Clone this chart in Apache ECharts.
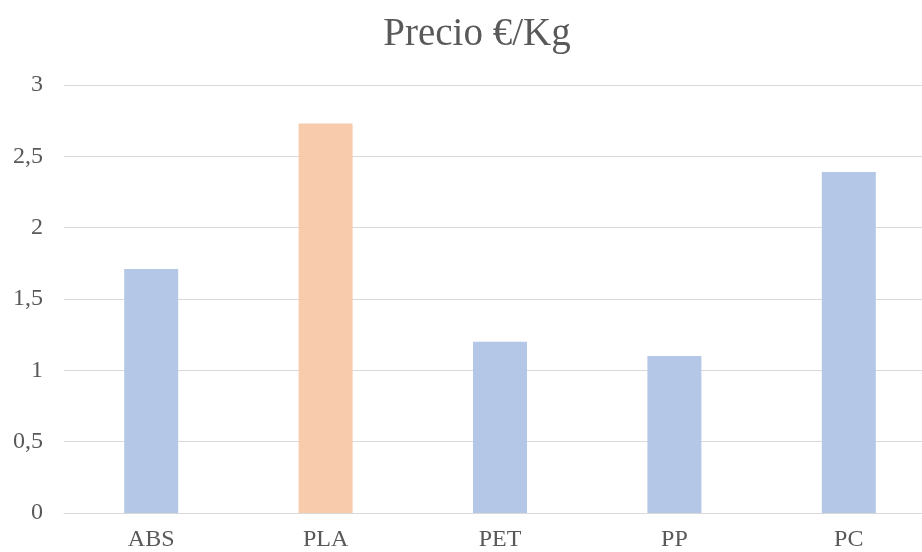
<!DOCTYPE html>
<html><head><meta charset="utf-8">
<script src="https://cdn.jsdelivr.net/npm/echarts@6/dist/echarts.min.js"></script>
<style>html,body{margin:0;padding:0;background:#fff}#c{width:922px;height:552px}</style>
</head><body><div id="c"></div>
<script>
const categories = ['ABS', 'PLA', 'PET', 'PP', 'PC'];
const values = [1.71, 2.73, 1.2, 1.1, 2.39];
const barColors = ['#B4C7E7', '#F8CBAD', '#B4C7E7', '#B4C7E7', '#B4C7E7'];
const titleText = 'Precio €/Kg';

const chart = echarts.init(document.getElementById('c'));
chart.setOption({
  animation: false,
  backgroundColor: '#ffffff',
  title: {
    text: titleText, left: 472, top: 10, textAlign: 'center',
    textStyle: { fontFamily: 'Liberation Serif', fontSize: 39, fontWeight: 'normal', color: '#595959' }
  },
  grid: { left: 64, top: 85, width: 872, height: 428, containLabel: false, outerBoundsMode: 'none' },
  xAxis: {
    type: 'category', data: categories,
    axisLine: { lineStyle: { color: '#D9D9D9', width: 1 } },
    axisTick: { show: false },
    axisLabel: { margin: 15, fontFamily: 'Liberation Serif', fontSize: 24, color: '#595959' }
  },
  yAxis: {
    type: 'value', min: 0, max: 3, interval: 0.5,
    axisLine: { show: false }, axisTick: { show: false },
    splitLine: { lineStyle: { color: '#D9D9D9', width: 1 } },
    axisLabel: { margin: 21, fontFamily: 'Liberation Serif', fontSize: 24, color: '#595959',
      formatter: v => String(v).replace('.', ',') }
  },
  series: [{
    type: 'bar', barWidth: 54,
    data: values.map((v, i) => ({ value: v, itemStyle: { color: barColors[i] } }))
  }]
});
</script></body></html>
